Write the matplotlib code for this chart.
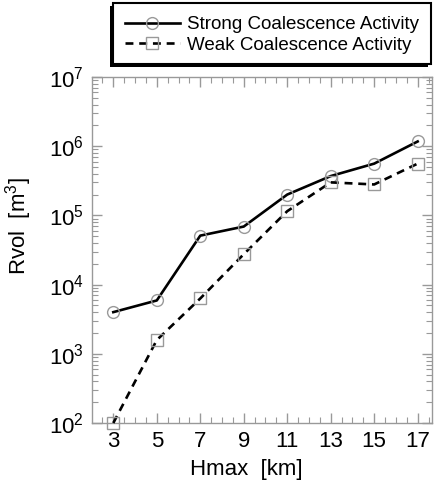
import matplotlib
matplotlib.use("Agg")
import matplotlib.pyplot as plt
from matplotlib.ticker import MultipleLocator, LogLocator, NullFormatter
from matplotlib.patches import Rectangle

plt.rcParams['font.family'] = ['Liberation Sans', 'DejaVu Sans']
plt.rcParams['mathtext.fontset'] = 'custom'
plt.rcParams['mathtext.rm'] = 'Liberation Sans'
plt.rcParams['mathtext.it'] = 'Liberation Sans:italic'
plt.rcParams['mathtext.bf'] = 'Liberation Sans:bold'

hmax = [3, 5, 7, 9, 11, 13, 15, 17]
strong = [4000, 5900, 51000, 69000, 2.0e5, 3.7e5, 5.6e5, 1.17e6]
weak = [100, 1580, 6300, 27500, 1.15e5, 3.0e5, 2.8e5, 5.6e5]
labels = ["Strong Coalescence Activity", "Weak Coalescence Activity"]

W, H = 434, 486
fig = plt.figure(figsize=(W/100, H/100), dpi=100)
ax = fig.add_axes([92/W, 1-423/H, 340/W, 346/H])

ax.plot(hmax, strong, '-', color='black', lw=1.9, marker='o', ms=8.5,
        mfc='none', mec='#999999', mew=1.0, label=labels[0], clip_on=False, zorder=3)
ax.plot(hmax, weak, '--', color='black', lw=1.9, marker='s', ms=8.5,
        mfc='none', mec='#999999', mew=1.0, label=labels[1], clip_on=False, zorder=3,
        dashes=(3, 2.2))

ax.set_yscale('log')
ax.set_ylim(1e2, 1e7)
ax.set_xlim(2.02, 17.66)
ax.set_xticks(hmax)
ax.xaxis.set_minor_locator(MultipleLocator(0.5))
ax.yaxis.set_major_locator(LogLocator(base=10, numticks=10))
ax.yaxis.set_minor_locator(LogLocator(base=10, subs=range(2, 10), numticks=20))
ax.yaxis.set_minor_formatter(NullFormatter())

for s in ax.spines.values():
    s.set_color('#999999')
    s.set_linewidth(1.0)
ax.tick_params(which='both', direction='in', top=True, right=True, color='#999999')
ax.tick_params(which='major', length=7, width=1.0, labelsize=16, pad=6)
ax.tick_params(which='minor', length=4, width=0.8)

ax.set_xlabel("Hmax  [km]", fontsize=16)
ax.xaxis.set_label_coords((246-92)/340, -(459-423)/346)
ax.set_ylabel("Rvol  [m$^3$]", fontsize=16)
ax.yaxis.set_label_coords(-(92-34)/340, (423-226)/346)

# legend frame with offset shadow (bottom-left)
def px(x, y):
    return x/W, 1-y/H
x0, y0, x1, y1 = 113, 3, 431, 64
sx, sy = px(x0-3, y1+3)
fig.patches.append(Rectangle((sx, sy), (x1-x0)/W, (y1-y0)/H, transform=fig.transFigure,
                             facecolor='black', edgecolor='black', lw=0, zorder=1))
bx, by = px(x0, y1)
fig.patches.append(Rectangle((bx, by), (x1-x0)/W, (y1-y0)/H, transform=fig.transFigure,
                             facecolor='white', edgecolor='black', lw=1.5, zorder=2))

leg = fig.legend(loc='upper left', bbox_to_anchor=px(125, 16),
                 fontsize=13.5, frameon=False, handlelength=2.93, numpoints=1,
                 borderpad=0.0, labelspacing=0.2, handletextpad=0.37,
                 borderaxespad=0.0)
leg.set_zorder(3)

fig.savefig("out.png", dpi=100)
